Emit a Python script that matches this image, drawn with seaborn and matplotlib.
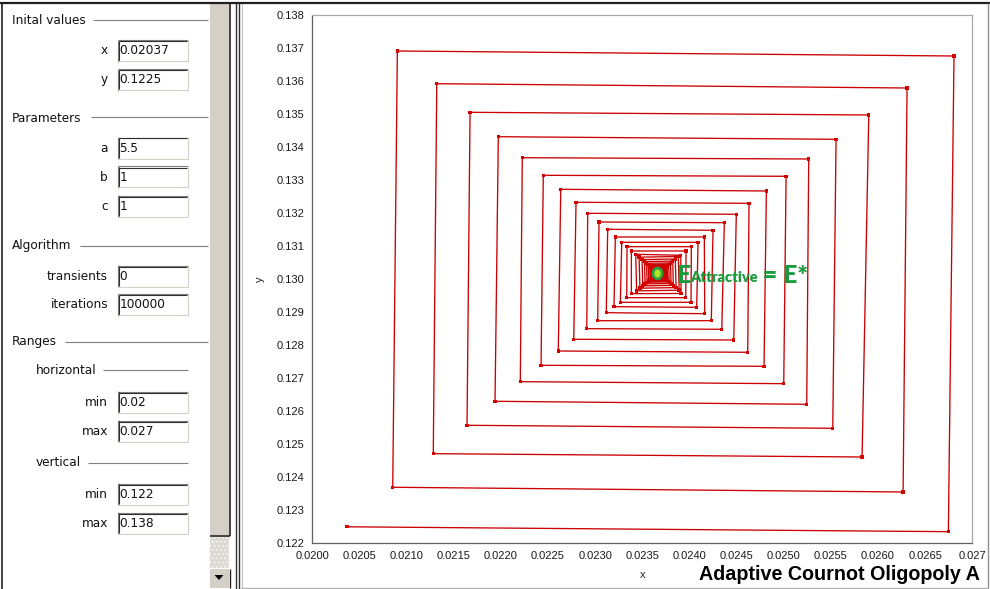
import matplotlib
matplotlib.use("Agg")
import matplotlib.pyplot as plt
from matplotlib.patches import Rectangle, Polygon
from matplotlib.lines import Line2D
from matplotlib.markers import MarkerStyle
from matplotlib.transforms import Affine2D
import numpy as np
import pandas as pd
import seaborn as sns

# ---- orbit of the adaptive Cournot map (corner points of the spiral) ----
x_vals = [
    0.02037, 0.026746, 0.026806, 0.020902, 0.020853, 0.026266, 0.026308, 0.021320,
    0.021283, 0.025831, 0.025902, 0.021673, 0.021641, 0.025520, 0.025555, 0.021973,
    0.021938, 0.025244, 0.025265, 0.022227, 0.022206, 0.025000, 0.025025, 0.022450,
    0.022426, 0.024791, 0.024816, 0.022635, 0.022609, 0.024618, 0.024632, 0.022797,
    0.022773, 0.024470, 0.024497, 0.022921, 0.022911, 0.024343, 0.024370, 0.023041,
    0.023027, 0.024232, 0.024250, 0.023133, 0.023118, 0.024162, 0.024158, 0.023214,
    0.023200, 0.024077, 0.024091, 0.023282, 0.023267, 0.024017, 0.024020, 0.023338,
    0.023335, 0.023961, 0.023964, 0.023384, 0.023384, 0.023911, 0.023908, 0.023430,
    0.023440, 0.023891, 0.023882, 0.023466, 0.023475, 0.023858, 0.023850, 0.023497,
    0.023505, 0.023829, 0.023823, 0.023524, 0.023529, 0.023805, 0.023799, 0.023546,
    0.023550, 0.023785, 0.023780, 0.023564, 0.023568, 0.023768, 0.023763, 0.023580,
    0.023584, 0.023753, 0.023750, 0.023594, 0.023597, 0.023740, 0.023738, 0.023605,
    0.023607, 0.023729, 0.023727, 0.023615, 0.023617, 0.023721, 0.023719, 0.023623,
]
y_vals = [
    0.12250, 0.122352, 0.136758, 0.136910, 0.123697, 0.123554, 0.135789, 0.135919,
    0.124714, 0.124614, 0.134972, 0.135053, 0.125574, 0.125483, 0.134236, 0.134314,
    0.126301, 0.126210, 0.133639, 0.133678, 0.126895, 0.126834, 0.133115, 0.133145,
    0.127391, 0.127361, 0.132670, 0.132721, 0.127824, 0.127785, 0.132297, 0.132328,
    0.128179, 0.128157, 0.131964, 0.131995, 0.128500, 0.128482, 0.131710, 0.131731,
    0.128742, 0.128742, 0.131480, 0.131510, 0.128984, 0.128954, 0.131277, 0.131277,
    0.129166, 0.129148, 0.131116, 0.131116, 0.129299, 0.129299, 0.130983, 0.130983,
    0.129439, 0.129439, 0.130853, 0.130853, 0.129560, 0.129566, 0.130723, 0.130753,
    0.129645, 0.129666, 0.130686, 0.130665, 0.129726, 0.129744, 0.130611, 0.130592,
    0.129796, 0.129811, 0.130547, 0.130532, 0.129856, 0.129869, 0.130492, 0.130480,
    0.129905, 0.129917, 0.130447, 0.130435, 0.129947, 0.129956, 0.130408, 0.130399,
    0.129984, 0.129993, 0.130374, 0.130365, 0.130014, 0.130020, 0.130344, 0.130338,
    0.130041, 0.130047, 0.130323, 0.130317, 0.130062, 0.130065, 0.130302, 0.130296,
]
eq_x, eq_y = 0.02366, 0.13018

x_ticks = [0.0200, 0.0205, 0.0210, 0.0215, 0.0220, 0.0225, 0.0230, 0.0235,
           0.0240, 0.0245, 0.0250, 0.0255, 0.0260, 0.0265, 0.0270]
x_tick_labels = ["0.0200", "0.0205", "0.0210", "0.0215", "0.0220", "0.0225", "0.0230",
                 "0.0235", "0.0240", "0.0245", "0.0250", "0.0255", "0.0260", "0.0265", "0.027"]
y_ticks = [0.122, 0.123, 0.124, 0.125, 0.126, 0.127, 0.128, 0.129, 0.130,
           0.131, 0.132, 0.133, 0.134, 0.135, 0.136, 0.137, 0.138]
y_tick_labels = [f"{v:.3f}" for v in y_ticks]

# ---- parameter form on the left ----
section_names = ["Inital values", "Parameters", "Algorithm", "Ranges"]
section_rows = [20, 118, 246, 342]
section_rule_start = [93, 91, 80, 65]
sub_names = ["horizontal", "vertical"]
sub_rows = [370, 463]
sub_rule_start = [103, 88]
field_labels = ["x", "y", "a", "b", "c", "transients", "iterations", "min", "max", "min", "max"]
field_values = ["0.02037", "0.1225", "5.5", "1", "1", "0", "100000", "0.02", "0.027", "0.122", "0.138"]
field_tops = [39.5, 68.5, 137, 166, 195, 265, 293.5, 391, 420, 483, 512]

W, H = 990, 589
sns.set_style("white")
plt.rcParams["font.family"] = ["Liberation Sans", "DejaVu Sans"]

fig = plt.figure(figsize=(W / 100, H / 100), dpi=100)
fig.patch.set_facecolor("white")


def fx(px):
    return px / W


def fy(py):
    return 1 - py / H


def hline(x0, x1, y, color, lw=1.0):
    fig.add_artist(Line2D([fx(x0), fx(x1)], [fy(y), fy(y)], color=color, lw=lw,
                          transform=fig.transFigure, solid_capstyle="butt"))


def vline(x, y0, y1, color, lw=1.0):
    fig.add_artist(Line2D([fx(x), fx(x)], [fy(y0), fy(y1)], color=color, lw=lw,
                          transform=fig.transFigure, solid_capstyle="butt"))


def rect(x0, y0, x1, y1, face, edge="none", lw=0, **kw):
    fig.add_artist(Rectangle((fx(x0), fy(y1)), (x1 - x0) / W, (y1 - y0) / H,
                             facecolor=face, edgecolor=edge, lw=lw,
                             transform=fig.transFigure, **kw))


ui_font = dict(fontsize=8.7, color="#111111", family=["DejaVu Sans"])

# section headers with etched rules
for name, row, start in zip(section_names, section_rows, section_rule_start):
    fig.text(fx(12), fy(row), name, ha="left", va="center", **ui_font)
    hline(start, 208, row - 0.5, "#808080", 0.8)
for name, row, start in zip(sub_names, sub_rows, sub_rule_start):
    fig.text(fx(36), fy(row), name, ha="left", va="center", **ui_font)
    hline(start, 188, row - 0.5, "#808080", 0.8)

# labelled input boxes
for lab, val, top in zip(field_labels, field_values, field_tops):
    bot = top + 22
    rect(117.5, top, 187.5, bot, "white")
    hline(117.5, 187.5, top + 0.5, "#808080", 0.8)
    vline(117.5, top, bot, "#808080", 0.8)
    hline(118.5, 187, top + 1.5, "#303030", 0.8)
    vline(118.5, top + 1, bot - 1, "#303030", 0.8)
    hline(117.5, 187.5, bot - 0.5, "#d4d0c8", 0.8)
    vline(187.5, top, bot, "#d4d0c8", 0.8)
    mid = top + 11.5
    fig.text(fx(108), fy(mid), lab, ha="right", va="center", **ui_font)
    fig.text(fx(119.5), fy(mid), val, ha="left", va="center", **ui_font)

# scroll bar and splitter
rect(210, 3, 229, 535, "#d4d0c8")
vline(229.5, 3, 536, "#202020", 1.2)
hline(210, 229.5, 535.5, "#202020", 1.2)
rect(210, 537, 229, 568, "#dcd9d3", hatch="....", edge="#f4f3f0", lw=0)
rect(210, 569, 229, 588, "#d4d0c8")
vline(229.5, 569, 588, "#202020", 1.0)
fig.add_artist(Polygon([[fx(214.5), fy(575)], [fx(223.5), fy(575)], [fx(219), fy(580)]],
                       closed=True, facecolor="#000000", edgecolor="none",
                       transform=fig.transFigure))
vline(235.5, 3, 589, "#303030", 1.0)
vline(238.5, 3, 589, "#303030", 1.0)
vline(241.5, 3, 588, "#c0c0c0", 0.8)

# outer frame
hline(0, W, 2.5, "#202020", 1.6)
vline(1.5, 2, 589, "#202020", 1.2)
vline(987.5, 3, 588, "#909090", 1.0)
hline(241, 988, 587.5, "#b0b0b0", 1.0)

# ---- phase plot ----
ax_l, ax_r, ax_t, ax_b = 312.3, 972.3, 15.0, 543.3
ax = fig.add_axes([fx(ax_l), fy(ax_b), (ax_r - ax_l) / W, (ax_b - ax_t) / H])
ax.set_facecolor("white")

orbit = pd.DataFrame({"step": np.arange(len(x_vals)), "x": x_vals, "y": y_vals})
sns.lineplot(data=orbit, x="x", y="y", sort=False, estimator=None, ax=ax,
             color="#cc0000", lw=0.95)
sns.scatterplot(data=orbit, x="x", y="y", ax=ax, marker="s", s=6,
                color="#d40000", edgecolor="none", linewidth=0, zorder=3)

ax.set_xlim(0.020, 0.027)
ax.set_ylim(0.122, 0.138)
ax.set_xticks(x_ticks)
ax.set_xticklabels(x_tick_labels)
ax.set_yticks(y_ticks)
ax.set_yticklabels(y_tick_labels)
ax.tick_params(axis="both", direction="out", length=2.6, width=0.8, color="#707070",
               labelsize=8.0, labelcolor="#1a1a1a", pad=3.2)
for side in ["left", "bottom"]:
    ax.spines[side].set_color("#606060")
    ax.spines[side].set_linewidth(0.9)
for side in ["top", "right"]:
    ax.spines[side].set_color("#a8a8a8")
    ax.spines[side].set_linewidth(0.9)
ax.set_xlabel("x", fontsize=8, color="#222222", labelpad=6)
ax.set_ylabel("y", fontsize=8, color="#222222", labelpad=8)

# attracting fixed point
eq_marker = MarkerStyle("o", transform=Affine2D().scale(0.85, 1.0))
ax.scatter([eq_x], [eq_y], s=60, marker=eq_marker, facecolor="#b5e61d",
           edgecolor="#28a040", linewidth=2.0, zorder=5)

green = "#1a9a3c"
lab_font = ["Lato", "DejaVu Sans"]
t1 = ax.annotate("E", xy=(eq_x, eq_y), xytext=(13.5, -7.4), textcoords="offset points",
                 fontsize=18, fontweight="heavy", color=green, family=lab_font,
                 ha="left", va="baseline", zorder=6)
t2 = ax.annotate("Attractive", xy=(1, 0), xycoords=t1, xytext=(-0.5, 2.2),
                 textcoords="offset points", fontsize=10.5, fontweight="heavy",
                 color=green, family=lab_font, ha="left", va="bottom", zorder=6)
t3 = ax.annotate(" = E*", xy=(1, 0), xycoords=t2, xytext=(0, -2.2),
                 textcoords="offset points", fontsize=18, fontweight="heavy",
                 color=green, family=lab_font, ha="left", va="bottom", zorder=6)

fig.text(fx(980), fy(580), "Adaptive Cournot Oligopoly A", ha="right", va="baseline",
         fontsize=14.2, fontweight="bold", color="#000000",
         family=["Liberation Sans", "DejaVu Sans"])

fig.savefig("out.png", dpi=100, facecolor="white")
